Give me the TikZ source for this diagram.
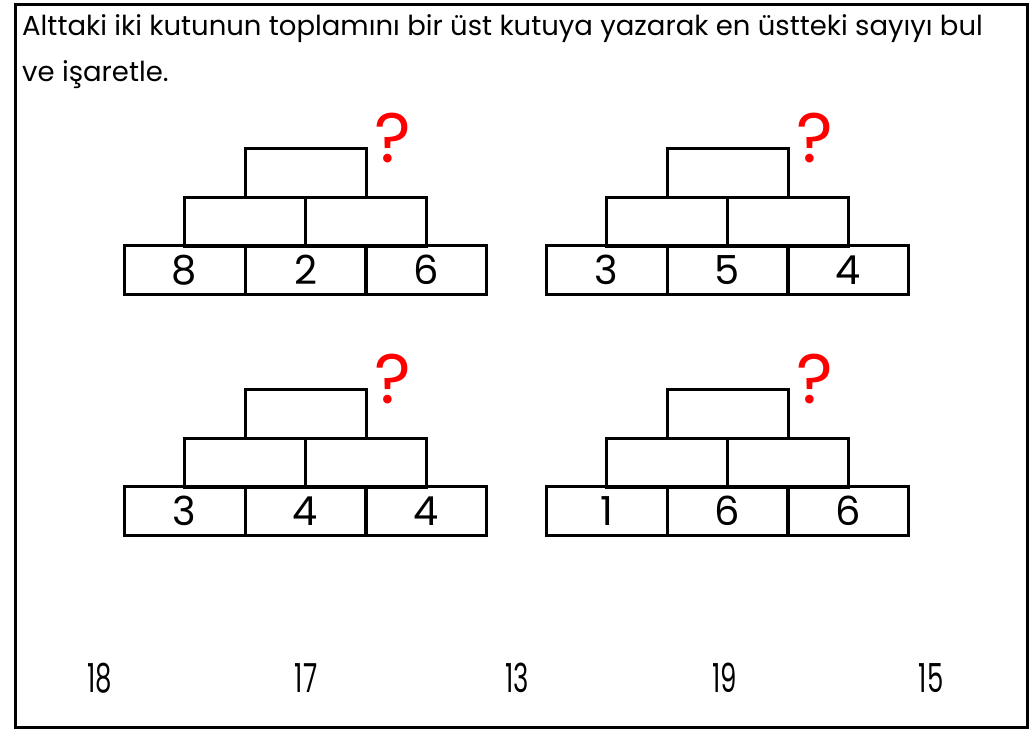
\documentclass[tikz,border=0pt]{standalone}
\usepackage{fontspec}
\setmainfont{Poppins}
\tikzstyle{cell}=[rectangle,draw,line width=3pt,minimum width=121pt,minimum height=49pt,inner sep=0pt,font=\fontsize{40}{40}\selectfont]
\tikzstyle{qmark}=[text=red,font=\fontsize{70}{70}\selectfont]
\tikzstyle{answer}=[font=\fontsize{40}{40}\selectfont]

\begin{document}
\begin{tikzpicture}[x=1pt,y=-1pt]

  \useasboundingbox (0,0) rectangle (1034,732);
  \draw[line width=3pt] (15,4) rectangle (1027,727);

  \node[anchor=north west,align=left,inner sep=0pt,font=\fontsize{27.5}{46}\selectfont] (task) at (22,14)
    {Alttaki iki kutunun toplamını bir üst kutuya yazarak en üstteki sayıyı bul\\ve işaretle.};

  % 8 2 6
  \node[cell] (A1) at (184.5,270) {8};
  \node[cell] (A2) at (305.5,270) {2};
  \node[cell] (A3) at (426,270) {6};
  \node[cell] (A4) at (245,221.5) {};
  \node[cell] (A5) at (365.5,221.5) {};
  \node[cell] (A6) at (305.5,173) {};
  \node[qmark] (Aq) at (393,138) {?};

  % 3 5 4
  \node[cell] (B1) at (606.5,270) {3};
  \node[cell] (B2) at (727.5,270) {5};
  \node[cell] (B3) at (848,270) {4};
  \node[cell] (B4) at (667,221.5) {};
  \node[cell] (B5) at (787.5,221.5) {};
  \node[cell] (B6) at (727.5,173) {};
  \node[qmark] (Bq) at (815,138) {?};

  % 3 4 4
  \node[cell] (C1) at (184.5,511) {3};
  \node[cell] (C2) at (305.5,511) {4};
  \node[cell] (C3) at (426,511) {4};
  \node[cell] (C4) at (245,462.5) {};
  \node[cell] (C5) at (365.5,462.5) {};
  \node[cell] (C6) at (305.5,414) {};
  \node[qmark] (Cq) at (393,379) {?};

  % 1 6 6
  \node[cell] (D1) at (606.5,511) {1};
  \node[cell] (D2) at (727.5,511) {6};
  \node[cell] (D3) at (848,511) {6};
  \node[cell] (D4) at (667,462.5) {};
  \node[cell] (D5) at (787.5,462.5) {};
  \node[cell] (D6) at (727.5,414) {};
  \node[qmark] (Dq) at (815,379) {?};

  % les choix
  \node[answer] (R1) at (100,678) {\scalebox{0.65}[1]{18}};
  \node[answer] (R2) at (306,678) {\scalebox{0.65}[1]{17}};
  \node[answer] (R3) at (517,678) {\scalebox{0.65}[1]{13}};
  \node[answer] (R4) at (725,678) {\scalebox{0.65}[1]{19}};
  \node[answer] (R5) at (931,678) {\scalebox{0.65}[1]{15}};

\end{tikzpicture}
\end{document}
